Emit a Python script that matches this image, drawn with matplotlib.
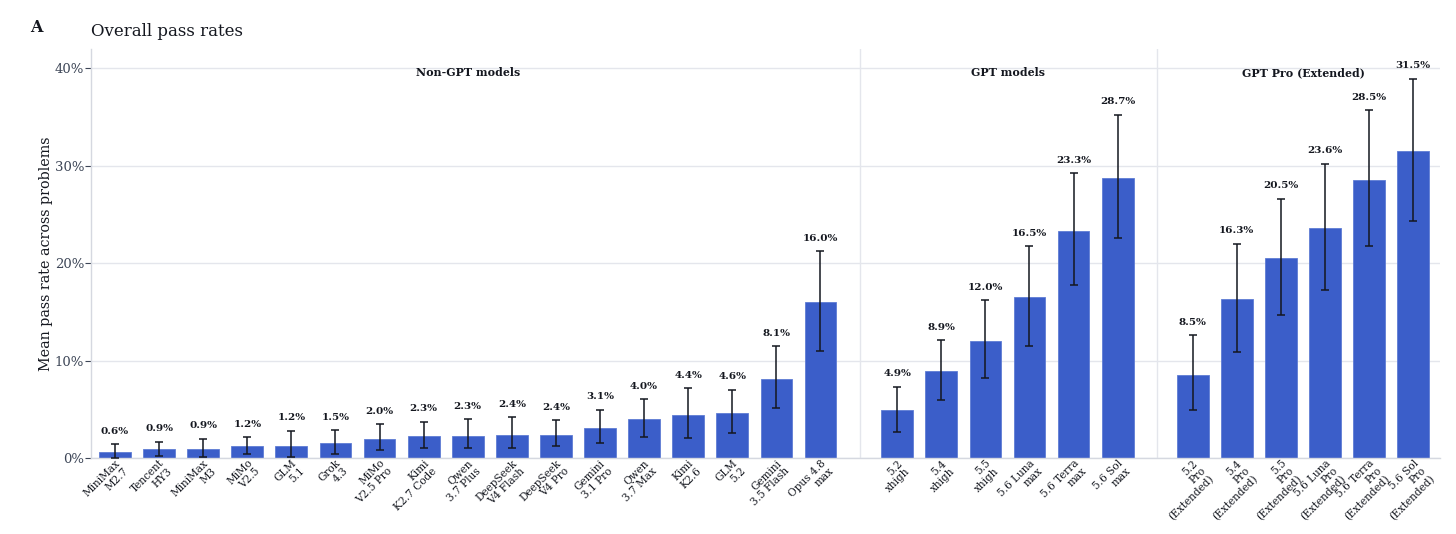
import numpy as np
import matplotlib
matplotlib.use("Agg")
import matplotlib.pyplot as plt

plt.rcParams["font.family"] = "DejaVu Serif"

non_gpt_labels = ["MiniMax\nM2.7", "Tencent\nHY3", "MiniMax\nM3", "MiMo\nV2.5", "GLM\n5.1", "Grok\n4.3",
                  "MiMo\nV2.5 Pro", "Kimi\nK2.7 Code", "Qwen\n3.7 Plus", "DeepSeek\nV4 Flash", "DeepSeek\nV4 Pro",
                  "Gemini\n3.1 Pro", "Qwen\n3.7 Max", "Kimi\nK2.6", "GLM\n5.2", "Gemini\n3.5 Flash", "Opus 4.8\nmax"]
non_gpt_values = [0.6, 0.9, 0.9, 1.2, 1.2, 1.5, 2.0, 2.3, 2.3, 2.4, 2.4, 3.1, 4.0, 4.4, 4.6, 8.1, 16.0]
non_gpt_low = [0.05, 0.17, 0.07, 0.38, 0.1, 0.44, 0.85, 1.06, 0.99, 1.0, 1.2, 1.54, 2.19, 2.02, 2.6, 5.1, 11.0]
non_gpt_high = [1.4, 1.67, 1.98, 2.15, 2.8, 2.84, 3.49, 3.73, 3.97, 4.17, 3.86, 4.96, 6.02, 7.15, 7.0, 11.5, 21.2]

gpt_labels = ["5.2\nxhigh", "5.4\nxhigh", "5.5\nxhigh", "5.6 Luna\nmax", "5.6 Terra\nmax", "5.6 Sol\nmax"]
gpt_values = [4.9, 8.9, 12.0, 16.5, 23.3, 28.7]
gpt_low = [2.67, 5.95, 8.2, 11.5, 17.7, 22.6]
gpt_high = [7.3, 12.1, 16.2, 21.7, 29.2, 35.2]

pro_labels = ["5.2\nPro\n(Extended)", "5.4\nPro\n(Extended)", "5.5\nPro\n(Extended)",
              "5.6 Luna\nPro\n(Extended)", "5.6 Terra\nPro\n(Extended)", "5.6 Sol\nPro\n(Extended)"]
pro_values = [8.5, 16.3, 20.5, 23.6, 28.5, 31.5]
pro_low = [4.9, 10.9, 14.7, 17.2, 21.7, 24.3]
pro_high = [12.6, 22.0, 26.6, 30.2, 35.7, 38.9]

group_names = ["Non-GPT models", "GPT models", "GPT Pro (Extended)"]

BAR = "#3b5ec9"
GRID = "#e4e6ec"
TICK = "#3d4657"

labels = non_gpt_labels + gpt_labels + pro_labels
values = np.array(non_gpt_values + gpt_values + pro_values)
low = np.array(non_gpt_low + gpt_low + pro_low)
high = np.array(non_gpt_high + gpt_high + pro_high)

# bar slots, with a gap between the groups
x = np.concatenate([np.arange(17), np.arange(6) + 17.74, np.arange(6) + 24.44])

fig = plt.figure(figsize=(14.56, 5.34), dpi=100)
ax = fig.add_axes([91 / 1456, 1 - 458 / 534, (1440 - 91) / 1456, (458 - 49) / 534])

ax.set_axisbelow(True)
ax.yaxis.grid(True, color=GRID, linewidth=1)
ax.bar(x, values, width=0.72, color=BAR, edgecolor="#5f7cd4", linewidth=0.6, zorder=2)
ax.errorbar(x, values, yerr=[values - low, high - values], fmt="none", ecolor="#14171f",
            elinewidth=1.1, capsize=3, capthick=1.1, zorder=3)

for xi, hi, v in zip(x, high, values):
    ax.annotate(f"{v:.1f}%", (xi, hi), xytext=(0, 6), textcoords="offset points", ha="center",
                va="bottom", fontsize=7.5, fontweight="bold", color="#14171f", zorder=4)

for sep in (16.89, 23.63):
    ax.axvline(sep, color=GRID, linewidth=1, zorder=1)

for xc, name in zip((8.01, 20.26, 26.95), group_names):
    ax.text(xc, 39.5, name, ha="center", va="center", fontsize=7.9, fontweight="bold", color="#14171f")

ax.set_xlim(-0.544, 30.05)
ax.set_ylim(0, 41.95)
ax.set_yticks([0, 10, 20, 30, 40])
ax.set_yticklabels(["0%", "10%", "20%", "30%", "40%"], fontsize=9.5, color=TICK)
ax.tick_params(axis="y", length=4, color=TICK, width=0.8, pad=1)
ax.set_xticks(x)
ax.set_xticklabels(labels, rotation=45, ha="right", rotation_mode="anchor", fontsize=7.6,
                   color="#14171f", ma="right", linespacing=1.15)
ax.tick_params(axis="x", length=0, pad=0)
ax.set_ylabel("Mean pass rate across problems", fontsize=10.3, color="#14171f", labelpad=1)

for side in ("top", "right"):
    ax.spines[side].set_visible(False)
for side in ("left", "bottom"):
    ax.spines[side].set_color("#d5d8e0")
    ax.spines[side].set_linewidth(1)

fig.text(91 / 1456, 1 - 32 / 534, "Overall pass rates", fontsize=12, va="center", color="#14171f")
fig.text(30 / 1456, 1 - 28 / 534, "A", fontsize=11.5, fontweight="bold", va="center", color="#14171f")

fig.savefig("out.png", dpi=100)
